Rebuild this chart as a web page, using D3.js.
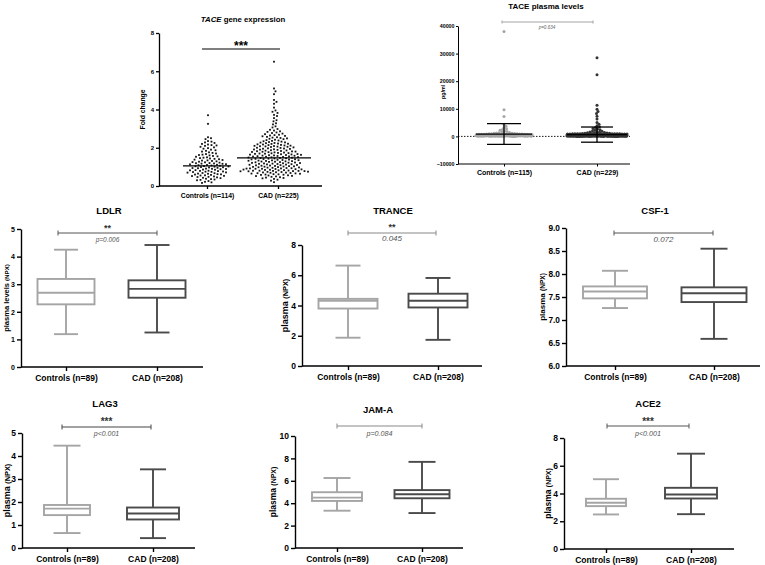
<!DOCTYPE html>
<html><head><meta charset="utf-8">
<script src="https://cdn.jsdelivr.net/npm/d3@7"></script>
<style>
body{margin:0;background:#fff;}
svg{display:block;font-family:"Liberation Sans",Arial,Helvetica,sans-serif;}
</style></head><body>
<svg id="c" width="765" height="565"></svg>
<script>
// ================= DATA =================
// TACE gene expression (fold change), individual points
const tgLabels = ['Controls (n=114)', 'CAD (n=225)'];
const tgTicks = [0, 2, 4, 6, 8];
const tgControls = [3.7, 3.25,
 2.55, 2.5, 2.45,
 2.35, 2.32, 2.28, 2.25,
 2.2, 2.17, 2.14, 2.12, 2.1,
 2.05, 2.02, 1.98, 1.95,
 1.9, 1.87, 1.84, 1.8,
 1.76, 1.73, 1.7, 1.67, 1.64,
 1.62, 1.6, 1.57, 1.55, 1.53, 1.5, 1.48,
 1.46, 1.44, 1.42, 1.4, 1.38, 1.36, 1.34, 1.33,
 1.31, 1.29, 1.27, 1.25, 1.24, 1.22, 1.2, 1.19, 1.18,
 1.17, 1.16, 1.14, 1.13, 1.11, 1.1, 1.09, 1.07, 1.06, 1.04, 1.03,
 1.02, 1.01, 0.99, 0.98, 0.97, 0.95, 0.94, 0.93, 0.91, 0.9, 0.89, 0.88,
 0.86, 0.85, 0.83, 0.82, 0.8, 0.79, 0.78, 0.76, 0.75, 0.74, 0.73,
 0.71, 0.7, 0.68, 0.67, 0.65, 0.64, 0.62, 0.61, 0.6, 0.58,
 0.56, 0.55, 0.53, 0.52, 0.5, 0.48, 0.47, 0.45, 0.43,
 0.41, 0.38, 0.36, 0.34, 0.32, 0.3,
 0.26, 0.22, 0.19, 0.16];
const tgCAD = [6.5, 5.1, 4.95, 4.8, 4.5, 4.4, 4.3, 4.1, 3.95,
 3.88, 3.82, 3.72, 3.66, 3.55, 3.44, 3.38, 3.28, 3.22, 3.12, 3.06,
 2.98, 2.94, 2.9,
 2.86, 2.83, 2.8, 2.77, 2.74,
 2.71, 2.68, 2.66, 2.64, 2.62, 2.6,
 2.57, 2.55, 2.53, 2.51, 2.49, 2.47, 2.45,
 2.42, 2.4, 2.38, 2.36, 2.34, 2.32, 2.3, 2.28,
 2.27, 2.25, 2.24, 2.22, 2.21, 2.2, 2.18, 2.17, 2.15, 2.14,
 2.12, 2.11, 2.1, 2.09, 2.08, 2.07, 2.06, 2.05, 2.04, 2.02, 2.0, 1.99,
 1.97, 1.96, 1.95, 1.94, 1.92, 1.91, 1.9, 1.89, 1.87, 1.86, 1.85, 1.83,
 1.82, 1.81, 1.8, 1.79, 1.78, 1.77, 1.76, 1.75, 1.73, 1.72, 1.71, 1.7, 1.69, 1.68,
 1.67, 1.66, 1.65, 1.64, 1.63, 1.62, 1.61, 1.6, 1.59, 1.58, 1.57, 1.56, 1.55, 1.54, 1.53,
 1.52, 1.51, 1.5, 1.49, 1.48, 1.47, 1.46, 1.45, 1.44, 1.43, 1.42, 1.41, 1.4, 1.39, 1.38, 1.37,
 1.36, 1.35, 1.34, 1.33, 1.32, 1.31, 1.3, 1.29, 1.28, 1.27, 1.26, 1.25, 1.24, 1.23, 1.22, 1.21,
 1.2, 1.19, 1.18, 1.17, 1.16, 1.15, 1.14, 1.13, 1.12, 1.11, 1.1, 1.09, 1.08, 1.07, 1.06, 1.05,
 1.04, 1.03, 1.02, 1.01, 1.0, 0.99, 0.98, 0.97, 0.96, 0.95, 0.94, 0.93, 0.92, 0.92, 0.91, 0.9, 0.9, 0.89,
 0.88, 0.87, 0.86, 0.85, 0.84, 0.83, 0.82, 0.81, 0.8, 0.8, 0.79, 0.79, 0.78, 0.78, 0.77, 0.77,
 0.75, 0.74, 0.73, 0.72, 0.71, 0.7, 0.69, 0.68, 0.67, 0.66, 0.65, 0.64,
 0.62, 0.61, 0.6, 0.59, 0.58, 0.56, 0.55, 0.53, 0.52, 0.5,
 0.48, 0.46, 0.44, 0.42, 0.4, 0.37,
 0.33, 0.28, 0.2];
const tgMedians = [1.05, 1.47];

// TACE plasma levels (pg/ml)
const tpLabels = ['Controls (n=115)', 'CAD (n=229)'];
const tpTicks = [-10000, 0, 10000, 20000, 30000, 40000];
const tpControls = [38000, 9700, 7200, 4300, 3700, 3200, 2800, 2500, 2200, 1950, 1750, 1600, 1450, 1350, 1250,
 1180, 1120, 1080, 1040, 1000, 970, 940, 910, 880, 860,
 840, 820, 800, 790, 770, 750, 740, 720, 700, 690,
 680, 660, 650, 640, 630, 610, 600, 590, 580, 570,
 560, 550, 540, 530, 520, 510, 500, 495, 485, 470,
 460, 455, 445, 430, 425, 415, 400, 395, 385, 375,
 365, 355, 350, 340, 330, 320, 315, 305, 295, 285,
 280, 270, 260, 250, 245, 235, 225, 220, 210, 200,
 195, 185, 180, 170, 160, 155, 145, 140, 130, 120,
 115, 110, 100, 95, 90, 80, 75, 70, 60, 55,
 50, 45, 40, 35, 30, 25, 20, 15, 10, 5];
const tpCAD = [28500, 22300, 11300, 9800, 9000, 8300, 7300, 6300, 5000, 4400, 3900, 3500, 3200, 2900, 2650, 2400, 2200, 2000, 1850, 1700,
 1600, 1500, 1420, 1350, 1280, 1220, 1170, 1120, 1080, 1040,
 1000, 985, 970, 955, 940, 925, 910, 900, 890, 880,
 870, 860, 850, 840, 830, 820, 815, 805, 795, 785,
 775, 770, 760, 750, 745, 735, 725, 720, 710, 700,
 695, 690, 680, 675, 665, 660, 650, 645, 640, 630,
 625, 620, 610, 605, 600, 590, 585, 580, 575, 565,
 560, 555, 550, 540, 535, 530, 525, 520, 510, 505,
 500, 495, 490, 485, 480, 470, 465, 460, 455, 450,
 445, 440, 435, 430, 425, 420, 415, 410, 405, 400,
 395, 390, 385, 380, 375, 370, 365, 360, 355, 350,
 345, 340, 335, 330, 325, 320, 315, 310, 305, 300,
 295, 290, 285, 280, 275, 270, 265, 260, 255, 250,
 245, 240, 235, 230, 225, 220, 215, 210, 205, 200,
 195, 190, 185, 180, 175, 170, 165, 160, 155, 150,
 145, 140, 135, 130, 125, 120, 115, 110, 105, 100,
 96, 92, 88, 84, 80, 76, 72, 68, 64, 60,
 56, 52, 48, 44, 40, 36, 32, 28, 24, 20,
 18, 16, 14, 12, 10, 9, 8, 7, 6, 5,
 990, 960, 930, 905, 875, 845, 810, 780, 755, 730,
 705, 670, 635, 615, 595, 570, 545, 515, 475, 410,
 380, 310, 260, 190, 130, 90, 50, 30, 15];
const tpMeanSD = [[850, 3750], [650, 2750]];

// Olink NPX box plots: [min, Q1, median, Q3, max]
const npxLabels = ['Controls (n=89)', 'CAD (n=208)'];
const ldlrControls = [1.19, 2.27, 2.69, 3.19, 4.25];
const ldlrCAD = [1.25, 2.51, 2.83, 3.14, 4.42];
const tranceControls = [1.87, 3.8, 4.31, 4.44, 6.64];
const tranceCAD = [1.73, 3.87, 4.31, 4.78, 5.82];
const csf1Controls = [7.26, 7.47, 7.62, 7.73, 8.07];
const csf1CAD = [6.59, 7.39, 7.58, 7.71, 8.55];
const lag3Controls = [0.65, 1.43, 1.71, 1.87, 4.45];
const lag3CAD = [0.43, 1.24, 1.5, 1.76, 3.42];
const jamaControls = [3.33, 4.2, 4.5, 4.98, 6.25];
const jamaCAD = [3.12, 4.44, 4.8, 5.17, 7.69];
const ace2Controls = [2.49, 3.09, 3.33, 3.62, 5.03];
const ace2CAD = [2.51, 3.64, 3.93, 4.41, 6.87];
const ldlrTicks = [0, 1, 2, 3, 4, 5];
const tranceTicks = [0, 2, 4, 6, 8];
const csf1Ticks = [6.0, 6.5, 7.0, 7.5, 8.0, 8.5, 9.0];
const lag3Ticks = [0, 1, 2, 3, 4, 5];
const jamaTicks = [0, 2, 4, 6, 8, 10];
const ace2Ticks = [0, 2, 4, 6, 8];

// ================= DRAWING =================
const svg = d3.select('#c');
const FONT = '"Liberation Sans",Arial,Helvetica,sans-serif';
const CTRL = '#a5a5a5', CADC = '#4a4a4a';

function styleAxis(g, sw, fs) {
  g.attr('font-family', FONT);
  g.selectAll('.domain').attr('stroke', '#000').attr('stroke-width', sw);
  g.selectAll('.tick line').attr('stroke', '#000').attr('stroke-width', sw);
  g.selectAll('.tick text').attr('fill', '#000').attr('font-weight', 'bold').attr('font-size', fs);
}

// deterministic beeswarm layout (positions only; values come from the data arrays)
function swarm(vals, y, cx, diam, maxHalf) {
  const pts = vals.map(v => ({ v, py: y(v) })).sort((a, b) => a.py - b.py);
  const placed = [];
  pts.forEach(p => {
    let found = null, best = null, bestD = -1;
    for (let k = 0; ; k++) {
      const off = (k % 2 ? 1 : -1) * Math.ceil(k / 2) * 0.5;
      if (Math.abs(off) > maxHalf) break;
      const px = cx + off;
      let minD = Infinity;
      for (const q of placed) {
        const dy = q.py - p.py;
        if (Math.abs(dy) >= diam) continue;
        const dx = q.px - px;
        const d = Math.sqrt(dx * dx + dy * dy);
        if (d < minD) minD = d;
      }
      if (minD >= diam) { found = px; break; }
      if (minD > bestD) { bestD = minD; best = px; }
    }
    p.px = found !== null ? found : best;
    placed.push(p);
  });
  return pts;
}

// ---------- Panel A: TACE gene expression ----------
(function () {
  const L = { x0: 159, xEnd: 322, top: 33, bottom: 186, cx: [207, 278] };
  const g = svg.append('g');
  const y = d3.scaleLinear().domain([0, 8]).range([L.bottom, L.top]);
  const x = d3.scalePoint().domain(tgLabels).range(L.cx);
  const yg = g.append('g').attr('transform', `translate(${L.x0},0)`)
    .call(d3.axisLeft(y).tickValues(tgTicks).tickSizeInner(3).tickSizeOuter(0).tickPadding(2));
  styleAxis(yg, 1.3, 6);
  const xg = g.append('g').attr('transform', `translate(0,${L.bottom})`)
    .call(d3.axisBottom(x).tickSizeInner(3).tickSizeOuter(0).tickPadding(4));
  xg.select('.domain').remove();
  styleAxis(xg, 1.3, 6.8);
  g.append('line').attr('x1', L.x0).attr('x2', L.xEnd).attr('y1', L.bottom).attr('y2', L.bottom)
    .attr('stroke', '#000').attr('stroke-width', 1.3);
  const half = [35, 38];
  [tgControls, tgCAD].forEach((vals, i) => {
    const pts = swarm(vals, y, x(tgLabels[i]) + (i ? -4 : 1), 3.1, half[i]);
    g.append('g').selectAll('rect').data(pts).enter().append('rect')
      .attr('x', d => d.px - 0.9).attr('y', d => d.py - 0.9).attr('width', 1.8).attr('height', 1.8)
      .attr('fill', '#111');
  });
  const mw = [24, 37];
  tgMedians.forEach((m, i) => {
    const cx = x(tgLabels[i]) + (i ? -4 : 0);
    g.append('line').attr('x1', cx - mw[i]).attr('x2', cx + mw[i]).attr('y1', y(m)).attr('y2', y(m))
      .attr('stroke', '#000').attr('stroke-width', 1.3);
  });
  g.append('line').attr('x1', x(tgLabels[0]) - 5).attr('x2', x(tgLabels[1]) + 2).attr('y1', 49).attr('y2', 49)
    .attr('stroke', '#000').attr('stroke-width', 1.2);
  g.append('text').attr('x', 241).attr('y', 50).attr('text-anchor', 'middle').attr('font-weight', 'bold')
    .attr('font-size', 12).attr('font-family', FONT).text('***');
  const t = g.append('text').attr('x', 243).attr('y', 22).attr('text-anchor', 'middle')
    .attr('font-weight', 'bold').attr('font-size', 7.8).attr('font-family', FONT);
  t.append('tspan').attr('font-style', 'italic').text('TACE');
  t.append('tspan').text(' gene expression');
  g.append('text').attr('transform', `translate(145,${(L.top + L.bottom) / 2}) rotate(-90)`)
    .attr('text-anchor', 'middle').attr('font-weight', 'bold').attr('font-size', 6.8).attr('font-family', FONT)
    .text('Fold change');
})();

// ---------- Panel B: TACE plasma levels ----------
(function () {
  const L = { x0: 458, xEnd: 630, top: 26, bottom: 164, cx: [504, 597] };
  const g = svg.append('g');
  const y = d3.scaleLinear().domain([-10000, 40000]).range([L.bottom, L.top]);
  const x = d3.scalePoint().domain(tpLabels).range(L.cx);
  const yg = g.append('g').attr('transform', `translate(${L.x0},0)`)
    .call(d3.axisLeft(y).tickValues(tpTicks).tickFormat(d3.format('d')).tickSizeInner(2).tickSizeOuter(0).tickPadding(1.5));
  styleAxis(yg, 1, 5.3);
  const xg = g.append('g').attr('transform', `translate(0,${L.bottom})`)
    .call(d3.axisBottom(x).tickSizeInner(2.5).tickSizeOuter(0).tickPadding(4));
  xg.select('.domain').remove();
  styleAxis(xg, 1, 7);
  g.append('line').attr('x1', L.x0).attr('x2', L.xEnd).attr('y1', L.bottom).attr('y2', L.bottom)
    .attr('stroke', '#000').attr('stroke-width', 1);
  g.append('line').attr('x1', L.x0).attr('x2', L.xEnd).attr('y1', y(0)).attr('y2', y(0))
    .attr('stroke', '#000').attr('stroke-width', 0.9).attr('stroke-dasharray', '1.5,1.5');
  const cols = [CTRL, '#333'];
  const halfW = [28, 30];
  [tpControls, tpCAD].forEach((vals, i) => {
    const pts = swarm(vals, y, x(tpLabels[i]), 2.4, halfW[i]);
    g.append('g').selectAll('circle').data(pts).enter().append('circle')
      .attr('cx', d => d.px).attr('cy', d => d.py).attr('r', 1.5).attr('fill', cols[i]);
  });
  const capW = [17, 16];
  tpMeanSD.forEach((ms, i) => {
    const cx = x(tpLabels[i]);
    const lo = y(ms[0] - ms[1]), hi = y(ms[0] + ms[1]), mid = y(ms[0]);
    const gg = g.append('g').attr('stroke', '#000').attr('stroke-width', 1.3);
    gg.append('line').attr('x1', cx).attr('x2', cx).attr('y1', lo).attr('y2', hi);
    gg.append('line').attr('x1', cx - capW[i]).attr('x2', cx + capW[i]).attr('y1', lo).attr('y2', lo);
    gg.append('line').attr('x1', cx - capW[i]).attr('x2', cx + capW[i]).attr('y1', hi).attr('y2', hi);
    gg.append('line').attr('x1', cx - halfW[i]).attr('x2', cx + halfW[i]).attr('y1', mid).attr('y2', mid);
  });
  const sg = g.append('g').attr('stroke', '#9a9a9a').attr('stroke-width', 0.9);
  const sx1 = x(tpLabels[0]) - 2, sx2 = x(tpLabels[1]) - 4;
  sg.append('line').attr('x1', sx1).attr('x2', sx2).attr('y1', 22).attr('y2', 22);
  sg.append('line').attr('x1', sx1).attr('x2', sx1).attr('y1', 20.5).attr('y2', 23.5);
  sg.append('line').attr('x1', sx2).attr('x2', sx2).attr('y1', 20.5).attr('y2', 23.5);
  g.append('text').attr('x', 547).attr('y', 28.5).attr('text-anchor', 'middle').attr('font-style', 'italic')
    .attr('font-size', 4.6).attr('fill', '#666').attr('font-family', FONT).text('p=0.634');
  g.append('text').attr('x', 546).attr('y', 9).attr('text-anchor', 'middle').attr('font-weight', 'bold')
    .attr('font-size', 8).attr('font-family', FONT).text('TACE plasma levels');
  g.append('text').attr('transform', `translate(445,92) rotate(-90)`).attr('text-anchor', 'middle')
    .attr('font-weight', 'bold').attr('font-size', 5.3).attr('font-family', FONT).text('pg/ml');
})();

// ---------- Box-plot panels ----------
function boxPanel(L, data) {
  const g = svg.append('g');
  const y = d3.scaleLinear().domain(L.domain).range([L.bottom, L.top]);
  const x = d3.scalePoint().domain(npxLabels).range(L.cx);
  const yg = g.append('g').attr('transform', `translate(${L.x0},0)`)
    .call(d3.axisLeft(y).tickValues(L.ticks).tickFormat(L.fmt).tickSizeInner(4).tickSizeOuter(0).tickPadding(2));
  styleAxis(yg, 1.4, L.tickFs);
  const xg = g.append('g').attr('transform', `translate(0,${L.bottom})`)
    .call(d3.axisBottom(x).tickSizeInner(4).tickSizeOuter(0).tickPadding(4));
  xg.select('.domain').remove();
  styleAxis(xg, 1.4, L.xFs);
  g.append('line').attr('x1', L.x0).attr('x2', L.xEnd).attr('y1', L.bottom).attr('y2', L.bottom)
    .attr('stroke', '#000').attr('stroke-width', 1.4);
  const cols = [CTRL, CADC];
  data.forEach((d, i) => {
    const cx = x(npxLabels[i]), bw = L.boxW[i], cw = L.capW[i];
    const gg = g.append('g').attr('stroke', cols[i]).attr('stroke-width', 1.9);
    gg.append('line').attr('x1', cx).attr('x2', cx).attr('y1', y(d[0])).attr('y2', y(d[1]));
    gg.append('line').attr('x1', cx).attr('x2', cx).attr('y1', y(d[3])).attr('y2', y(d[4]));
    gg.append('line').attr('x1', cx - cw / 2).attr('x2', cx + cw / 2).attr('y1', y(d[0])).attr('y2', y(d[0]));
    gg.append('line').attr('x1', cx - cw / 2).attr('x2', cx + cw / 2).attr('y1', y(d[4])).attr('y2', y(d[4]));
    gg.append('rect').attr('x', cx - bw / 2).attr('y', y(d[3])).attr('width', bw).attr('height', y(d[1]) - y(d[3]))
      .attr('fill', '#fff');
    gg.append('line').attr('x1', cx - bw / 2).attr('x2', cx + bw / 2).attr('y1', y(d[2])).attr('y2', y(d[2]));
  });
  const sx1 = x(npxLabels[0]) + L.sigDx[0], sx2 = x(npxLabels[1]) + L.sigDx[1];
  const sg = g.append('g').attr('stroke', L.sigCol).attr('stroke-width', 1);
  sg.append('line').attr('x1', sx1).attr('x2', sx2).attr('y1', L.sigY).attr('y2', L.sigY);
  sg.append('line').attr('x1', sx1).attr('x2', sx1).attr('y1', L.sigY - 2.5).attr('y2', L.sigY + 2.5);
  sg.append('line').attr('x1', sx2).attr('x2', sx2).attr('y1', L.sigY - 2.5).attr('y2', L.sigY + 2.5);
  const mid = (sx1 + sx2) / 2;
  if (L.stars) g.append('text').attr('x', mid).attr('y', L.starsY).attr('text-anchor', 'middle')
    .attr('font-weight', 'bold').attr('font-size', L.starsFs).attr('fill', '#333').attr('font-family', FONT).text(L.stars);
  g.append('text').attr('x', mid).attr('y', L.pY).attr('text-anchor', 'middle').attr('font-style', 'italic')
    .attr('font-size', L.pFs).attr('fill', '#555').attr('font-family', FONT).text(L.p);
  g.append('text').attr('x', L.titleX).attr('y', L.titleY).attr('text-anchor', 'middle')
    .attr('font-weight', 'bold').attr('font-size', 9.5).attr('font-family', FONT).text(L.title);
  const yl = g.append('text').attr('transform', `translate(${L.ylX},${(L.top + L.bottom) / 2}) rotate(-90)`)
    .attr('text-anchor', 'middle').attr('font-weight', 'bold').attr('font-family', FONT);
  yl.append('tspan').attr('font-size', L.ylFs).text(L.ylab + ' ');
  yl.append('tspan').attr('font-size', L.ylFs * 0.82).text('(NPX)');
}

const f0 = d3.format('d'), f1 = d3.format('.1f');
boxPanel({ title: 'LDLR', titleX: 109, titleY: 214, domain: [0, 5], ticks: ldlrTicks, fmt: f0, tickFs: 7,
  x0: 21, xEnd: 203, top: 229, bottom: 367, cx: [66, 157], boxW: [57, 57], capW: [24, 25], xFs: 8.5,
  sigDx: [-8, 0], sigY: 233, sigCol: '#555', stars: '**', starsY: 231, starsFs: 9, p: 'p=0.006', pY: 241.5, pFs: 6.5,
  ylX: 9, ylab: 'plasma levels', ylFs: 7.5 }, [ldlrControls, ldlrCAD]);
boxPanel({ title: 'TRANCE', titleX: 393, titleY: 214, domain: [0, 8], ticks: tranceTicks, fmt: f0, tickFs: 8.5,
  x0: 302, xEnd: 482, top: 245, bottom: 366, cx: [348, 438], boxW: [59, 59], capW: [25, 25], xFs: 8.5,
  sigDx: [0, -2], sigY: 233, sigCol: '#888', stars: '**', starsY: 229.5, starsFs: 9, p: '0.045', pY: 241, pFs: 8,
  ylX: 288, ylab: 'plasma', ylFs: 9 }, [tranceControls, tranceCAD]);
boxPanel({ title: 'CSF-1', titleX: 655, titleY: 214, domain: [6, 9], ticks: csf1Ticks, fmt: f1, tickFs: 8.3,
  x0: 566, xEnd: 760, top: 228, bottom: 366, cx: [615, 714], boxW: [64, 65], capW: [26, 27], xFs: 8.5,
  sigDx: [-1, -1], sigY: 233, sigCol: '#555', stars: '', starsY: 0, starsFs: 9, p: '0.072', pY: 242, pFs: 8,
  ylX: 545, ylab: 'plasma', ylFs: 8 }, [csf1Controls, csf1CAD]);
boxPanel({ title: 'LAG3', titleX: 105, titleY: 407, domain: [0, 5], ticks: lag3Ticks, fmt: f0, tickFs: 8.5,
  x0: 22, xEnd: 195, top: 433, bottom: 548, cx: [67, 153], boxW: [46, 52], capW: [27, 26], xFs: 8.5,
  sigDx: [-5, -2], sigY: 427, sigCol: '#444', stars: '***', starsY: 424.5, starsFs: 10, p: 'p<0.001', pY: 436, pFs: 7,
  ylX: 10, ylab: 'plasma', ylFs: 9 }, [lag3Controls, lag3CAD]);
boxPanel({ title: 'JAM-A', titleX: 378, titleY: 413, domain: [0, 10], ticks: jamaTicks, fmt: f0, tickFs: 8.5,
  x0: 295, xEnd: 463, top: 436, bottom: 548, cx: [337, 422], boxW: [50, 55], capW: [27, 27], xFs: 8.5,
  sigDx: [0, 0], sigY: 426, sigCol: '#888', stars: '', starsY: 0, starsFs: 9, p: 'p=0.084', pY: 436, pFs: 7.2,
  ylX: 276, ylab: 'plasma', ylFs: 8.5 }, [jamaControls, jamaCAD]);
boxPanel({ title: 'ACE2', titleX: 648, titleY: 407, domain: [0, 8], ticks: ace2Ticks, fmt: f0, tickFs: 8.5,
  x0: 564, xEnd: 734, top: 438, bottom: 549, cx: [606, 691], boxW: [40, 52], capW: [26, 28], xFs: 8.5,
  sigDx: [1, -2], sigY: 426, sigCol: '#555', stars: '***', starsY: 424.5, starsFs: 10, p: 'p<0.001', pY: 436, pFs: 7.2,
  ylX: 551, ylab: 'plasma', ylFs: 8.5 }, [ace2Controls, ace2CAD]);
</script>
</body></html>
